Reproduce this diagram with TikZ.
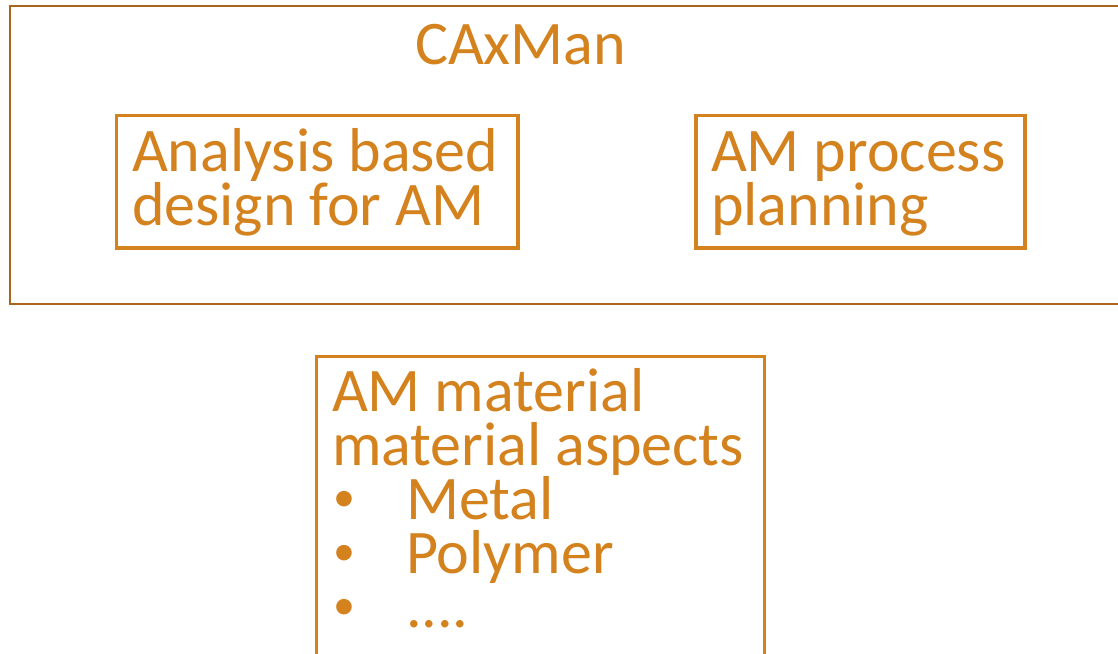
\documentclass[tikz,border=0pt]{standalone}
\usepackage{fontspec}
\setmainfont{Carlito}
\definecolor{amorange}{HTML}{D4821E}
\definecolor{ambrown}{HTML}{A8651C}
\newcommand{\ambullet}[1]{\makebox[74pt][l]{\hspace{1pt}\raisebox{8pt}{\fontsize{44}{44}\selectfont •}}#1}
\begin{document}
\begin{tikzpicture}[x=1pt,y=-1pt,
  frame/.style={draw=amorange, line width=3.2pt, rectangle, inner sep=0pt, outer sep=0pt, anchor=north west},
  outerframe/.style={draw=ambrown, line width=2.2pt, rectangle, inner sep=0pt, outer sep=0pt, anchor=north west},
  lbl/.style={text=amorange, font=\fontsize{62}{54}\selectfont, inner sep=0pt, outer sep=0pt, anchor=base west, align=left}]
\useasboundingbox (0,0) rectangle (1118,653);
\clip (0,0) rectangle (1118,653);
\fill[white] (0,0) rectangle (1118,653);
% outer CAxMan box
\node[outerframe, minimum width=1120pt, minimum height=298.6pt] (outer) at (10.3,5.7) {};
\node[lbl] (title) at (415,64) {CAxMan};
% inner boxes
\node[frame, minimum width=401.3pt, minimum height=132.5pt] (b1) at (116.7,115.5) {};
\node[lbl] (b1t) at (132,225) {Analysis based\\design for AM};
\node[frame, minimum width=329pt, minimum height=132.5pt] (b2) at (696,115.5) {};
\node[lbl] (b2t) at (711,225) {AM process\\planning};
% material box
\node[frame, minimum width=448pt, minimum height=320pt] (b3) at (316.7,356.7) {};
\node[lbl] (b3t) at (332,627) {AM material\\material aspects\\\ambullet{Metal}\\\ambullet{Polymer}\\\ambullet{....}};
\end{tikzpicture}
\end{document}
